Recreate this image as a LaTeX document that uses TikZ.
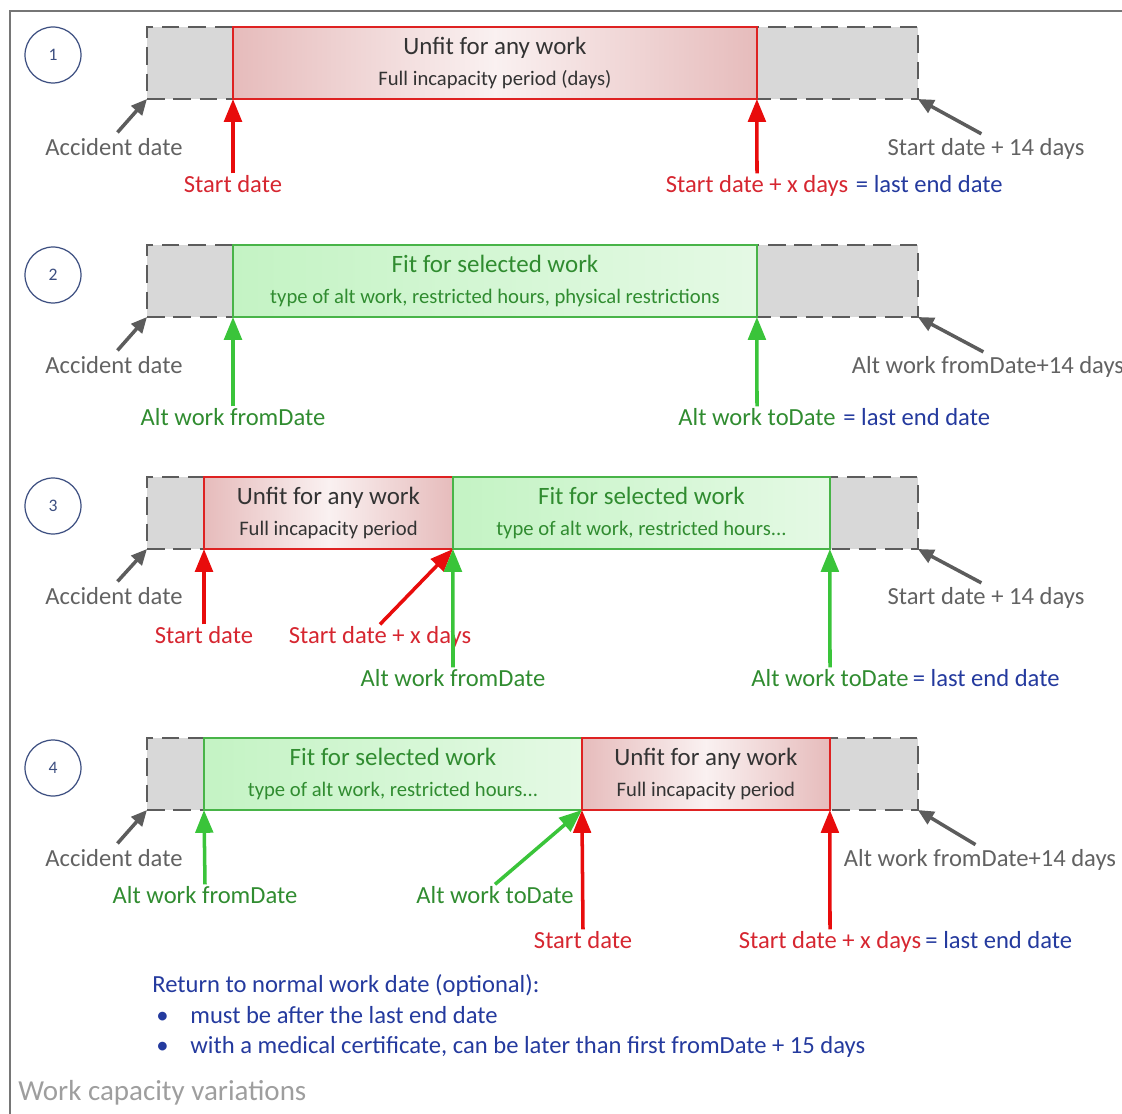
\documentclass[tikz,border=0pt]{standalone}
\usepackage{fontspec}
\setmainfont{Carlito}
\usepackage{xcolor}
\usetikzlibrary{positioning, arrows.meta, calc}
\definecolor{arrowred}{RGB}{232,12,12}
\definecolor{textred}{RGB}{214,38,48}
\definecolor{boxred}{RGB}{222,34,34}
\definecolor{rosy}{RGB}{220,160,160}
\definecolor{arrowgreen}{RGB}{58,196,58}
\definecolor{boxgreen}{RGB}{72,180,72}
\definecolor{textgreen}{RGB}{48,140,48}
\definecolor{mint}{RGB}{196,243,196}
\definecolor{textblue}{RGB}{36,58,158}
\definecolor{slotgray}{RGB}{216,216,216}
\definecolor{dashgray}{RGB}{92,92,92}
\definecolor{textgray}{RGB}{98,98,98}
\definecolor{circleblue}{RGB}{60,78,128}
\definecolor{captiongray}{RGB}{158,158,158}
\definecolor{framegray}{RGB}{118,118,118}
\pgfdeclarehorizontalshading{unfitshade}{100bp}{color(0bp)=(rosy!50); color(12bp)=(rosy); color(50bp)=(rosy!15); color(88bp)=(rosy); color(100bp)=(rosy!50)}
\tikzset{
  slot/.style={draw=dashgray, fill=slotgray, line width=1.4pt, dash pattern=on 10pt off 5pt,
    minimum width=15.42cm, minimum height=1.44cm, inner sep=0pt, outer sep=0pt, anchor=north west},
  period/.style={line width=1.2pt, minimum height=1.44cm, inner sep=0pt, outer sep=0pt, align=center,
    font=\fontsize{11.75}{18}\selectfont},
  unfitbox/.style={period, draw=boxred, shading=unfitshade, text=black!80},
  fitbox/.style={period, draw=boxgreen, left color=mint, right color=mint!45, text=textgreen},
  stepnum/.style={circle, draw=circleblue, line width=0.7pt, minimum size=1.12cm, text=circleblue,
    font=\fontsize{10}{12}\selectfont},
  lbl/.style={inner sep=1pt, text height=9.5pt, text depth=2.5pt, font=\fontsize{14}{16}\selectfont},
  redlbl/.style={lbl, text=textred},
  greenlbl/.style={lbl, text=textgreen},
  graylbl/.style={lbl, text=textgray},
  bluelbl/.style={lbl, text=textblue},
  redarr/.style={draw=arrowred, line width=2pt, -{Triangle[length=13pt, width=10pt]}},
  greenarr/.style={draw=arrowgreen, line width=2pt, -{Triangle[length=13pt, width=10pt]}},
  grayarr/.style={draw=dashgray, line width=2pt, -{Triangle[length=9pt, width=8pt]}, shorten <=3pt},
  note/.style={anchor=west, inner sep=0pt, text=textblue, font=\fontsize{14}{16}\selectfont,
    text height=9.5pt, text depth=2.5pt},
}
\newcommand{\ptitle}[1]{{\fontsize{14.2}{18}\selectfont #1}}

\begin{document}
\begin{tikzpicture}[x=0.02cm, y=-0.02cm]
\useasboundingbox (0,0) rectangle (1122,1114);
\draw[framegray, line width=1.3pt] (10,1114) -- (10,11) -- (1122,11);

% case 1
\node[stepnum] (c1) at (53,55) {1};
\node[slot] (g1) at (147,27) {};
\node[unfitbox, minimum width=10.48cm, anchor=north west] (u1) at (233,27) {\ptitle{Unfit for any work}\\Full incapacity period (days)};
\node[graylbl] (a1) at (114,149) {Accident date};
\node[redlbl] (s1) at (233,186) {Start date};
\node[redlbl] (e1) at (757,186) {Start date + x days};
\node[bluelbl, right=2pt of e1] (l1) {= last end date};
\node[graylbl] (r1) at (986,149) {Start date + 14 days};
\draw[grayarr] (a1.north) -- (g1.south west);
\draw[redarr] (s1.north) -- (u1.south west);
\draw[redarr] (e1.north) -- (u1.south east);
\draw[grayarr] (r1.north) -- (g1.south east);

% case 2
\node[stepnum] (c2) at (53,275) {2};
\node[slot] (g2) at (147,245) {};
\node[fitbox, minimum width=10.48cm, anchor=north west] (f2) at (233,245) {\ptitle{Fit for selected work}\\type of alt work, restricted hours, physical restrictions};
\node[graylbl] (a2) at (114,367) {Accident date};
\node[greenlbl] (s2) at (233,419) {Alt work fromDate};
\node[greenlbl] (e2) at (757,419) {Alt work toDate};
\node[bluelbl, right=2pt of e2] (l2) {= last end date};
\node[graylbl] (r2) at (988,367) {Alt work fromDate+14 days};
\draw[grayarr] (a2.north) -- (g2.south west);
\draw[greenarr] (s2.north) -- (f2.south west);
\draw[greenarr] (e2.north) -- (f2.south east);
\draw[grayarr] (r2.north) -- (g2.south east);

% case 3
\node[stepnum] (c3) at (53,506) {3};
\node[slot] (g3) at (147,477) {};
\node[unfitbox, minimum width=4.98cm, anchor=north west] (u3) at (204,477) {\ptitle{Unfit for any work}\\Full incapacity period};
\node[fitbox, minimum width=7.54cm, right=0pt of u3] (f3) {\ptitle{Fit for selected work}\\type of alt work, restricted hours...};
\node[graylbl] (a3) at (114,598) {Accident date};
\node[redlbl] (s3) at (204,637) {Start date};
\node[redlbl] (x3) at (380,637) {Start date + x days};
\node[greenlbl] (t3) at (453,680) {Alt work fromDate};
\node[greenlbl] (e3) at (830,680) {Alt work toDate};
\node[bluelbl, right=0pt of e3] (l3) {= last end date};
\node[graylbl] (r3) at (986,598) {Start date + 14 days};
\draw[grayarr] (a3.north) -- (g3.south west);
\draw[redarr] (s3.north) -- (u3.south west);
\draw[redarr] (x3.north) -- (u3.south east);
\draw[greenarr] (t3.north) -- (f3.south west);
\draw[greenarr] (e3.north) -- (f3.south east);
\draw[grayarr] (r3.north) -- (g3.south east);

% case 4
\node[stepnum] (c4) at (53,768) {4};
\node[slot] (g4) at (147,738) {};
\node[fitbox, minimum width=7.56cm, anchor=north west] (f4) at (204,738) {\ptitle{Fit for selected work}\\type of alt work, restricted hours...};
\node[unfitbox, minimum width=4.96cm, right=0pt of f4] (u4) {\ptitle{Unfit for any work}\\Full incapacity period};
\node[graylbl] (a4) at (114,860) {Accident date};
\node[greenlbl] (s4) at (205,897) {Alt work fromDate};
\node[greenlbl] (t4) at (495,897) {Alt work toDate};
\node[redlbl] (x4) at (583,942) {Start date};
\node[redlbl] (e4) at (830,942) {Start date + x days};
\node[bluelbl, right=0pt of e4] (l4) {= last end date};
\node[graylbl] (r4) at (980,860) {Alt work fromDate+14 days};
\draw[grayarr] (a4.north) -- (g4.south west);
\draw[greenarr] (s4.north) -- (f4.south west);
\draw[greenarr] (t4.north) -- (f4.south east);
\draw[redarr] (x4.north) -- (u4.south west);
\draw[redarr] (e4.north) -- (u4.south east);
\draw[grayarr] (r4.north) -- (g4.south east);

% return to work
\node[note] (n0) at (152,986) {Return to normal work date (optional):};
\node[note] (b1) at (156,1017) {\textbullet};
\node[note] (n1) at (190,1017) {must be after the last end date};
\node[note] (b2) at (156,1047) {\textbullet};
\node[note] (n2) at (190,1047) {with a medical certificate, can be later than first fromDate + 15 days};
\node[anchor=west, inner sep=0pt, text=captiongray, font=\fontsize{16.5}{19}\selectfont] (cap) at (18,1093) {Work capacity variations};
\end{tikzpicture}
\end{document}
